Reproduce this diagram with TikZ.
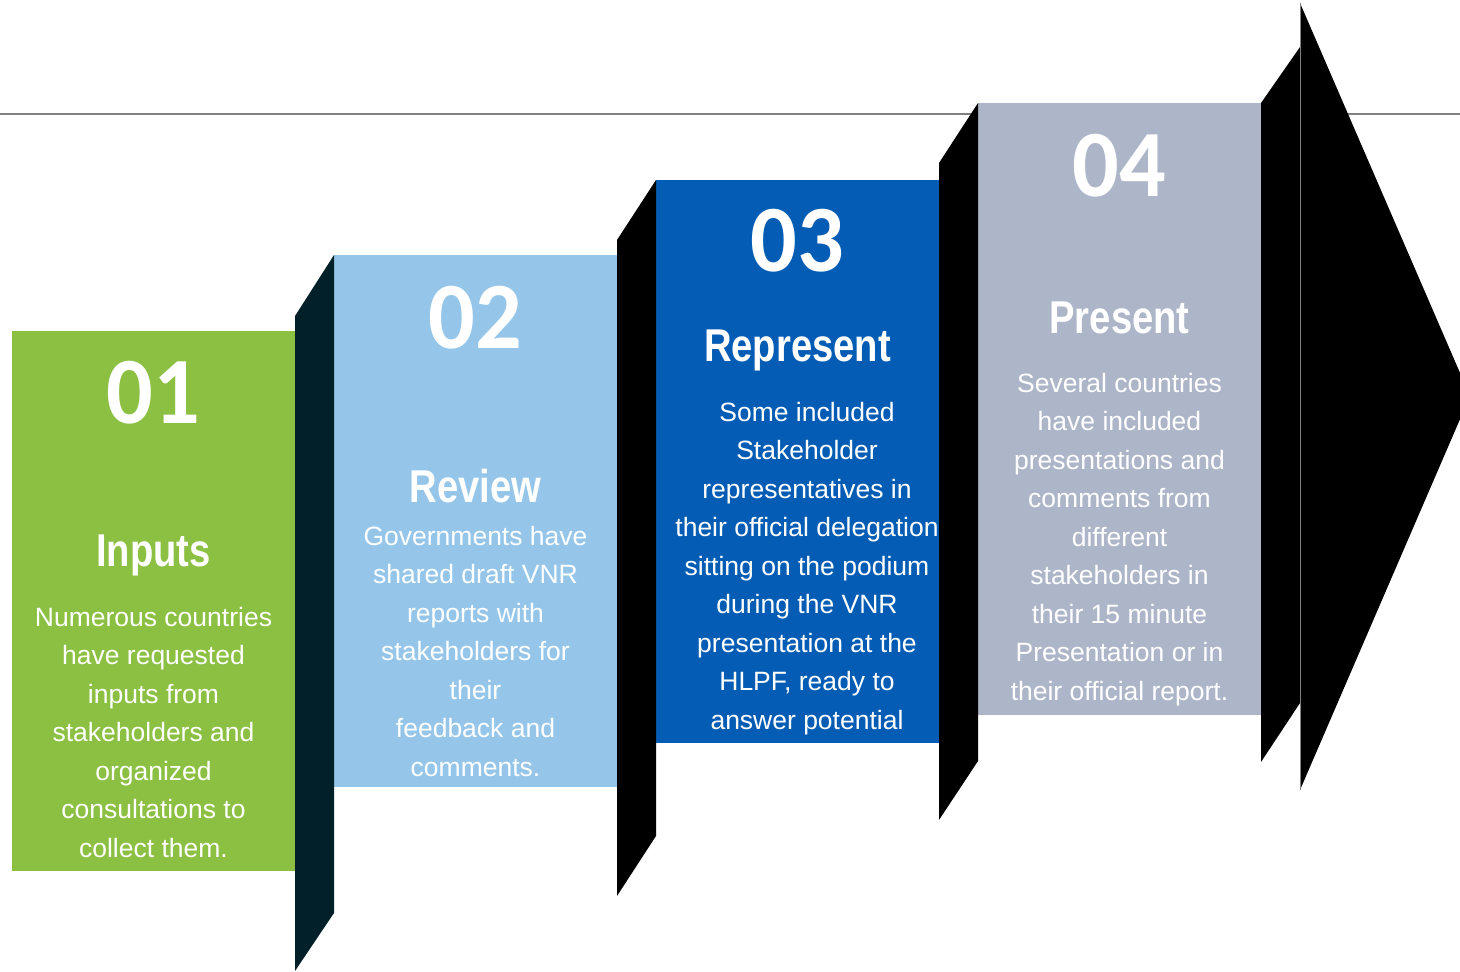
\documentclass[tikz,border=0pt]{standalone}
\usepackage{fontspec}
\setmainfont{Liberation Sans}
\newfontfamily\numfont[FakeStretch=0.97]{Carlito}
\newfontfamily\headfont[FakeStretch=0.83]{Liberation Sans}
\usetikzlibrary{calc}

\definecolor{inputgreen}{HTML}{8BC043}
\definecolor{reviewblue}{HTML}{95C6EA}
\definecolor{represblue}{HTML}{045CB4}
\definecolor{presgray}{HTML}{ADB6C9}
\definecolor{folddark}{HTML}{022029}
\definecolor{rulegray}{HTML}{808080}

\tikzset{
	panel/.style={minimum width=283pt, inner sep=0pt, outer sep=0pt, draw=none},
	numtext/.style={anchor=base, inner sep=0pt, text=white, font=\numfont\bfseries\fontsize{95}{95}\selectfont},
	headtext/.style={anchor=base, inner sep=0pt, text=white, font=\headfont\bfseries\fontsize{46}{46}\selectfont},
	bodytext/.style={anchor=north, inner sep=0pt, align=center, text=white, font=\fontsize{26.5}{38.5}\selectfont},
}

\begin{document}
\begin{tikzpicture}[x=1pt,y=-1pt]
		\clip (0,0) rectangle (1460,972);
		
		% thin rule behind the steps
		\draw[rulegray, line width=1.5pt] (0,114) -- (1460,114);
		
		\node (s1) at (153.5,601) [panel, fill=inputgreen, minimum height=540pt] {};
		\node (s2) at (475.5,521) [panel, fill=reviewblue, minimum height=532pt] {};
		\node (s3) at (797.5,461.5) [panel, fill=represblue, minimum height=563pt] {};
		\node (s4) at (1119.5,409) [panel, fill=presgray, minimum height=612pt] {};
		
		% folds between the steps
		\fill[folddark] ($(s1.north east)+(0,-15)$) -- (s2.north west) -- ($(s2.south west)+(0,126)$) -- ($(s1.south east)+(0,100)$) -- cycle;
		\fill[black] (617,240) -- (s3.north west) -- (656,836) -- (617,896) -- cycle;
		\fill[black] (939,163) -- (s4.north west) -- (978,761) -- (939,820) -- cycle;
		\fill[black] (s4.north east) -- (1300,47) -- (1300,703) -- (1261,762) -- cycle;
		
		% arrow head
		\fill[black] (1300,3) -- (1470,396) -- (1300,790) -- cycle;
		\draw[gray, line width=0.6pt] (1300,3) -- (1300,790);
		
		\node (n1) at (153.5,423) [numtext] {01};
		\node (h1) at (153.5,566) [headtext] {Inputs};
		\node (b1) at (153.5,599) [bodytext] {\strut Numerous countries\\have requested\\inputs from\\stakeholders and\\organized\\consultations to\\collect them.};
		
		\node (n2) at (475.5,348) [numtext] {02};
		\node (h2) at (475.5,502) [headtext] {Review};
		\node (b2) at (475.5,518) [bodytext] {\strut Governments have\\shared draft VNR\\reports with\\stakeholders for\\their\\feedback and\\comments.};
		
		\node (n3) at (797.5,271) [numtext] {03};
		\node (h3) at (797.5,361) [headtext] {Represent};
		\node (b3) at (807,394) [bodytext] {\strut Some included\\Stakeholder\\representatives in\\their official delegation\\sitting on the podium\\during the VNR\\presentation at the\\HLPF, ready to\\answer potential};
		
		\node (n4) at (1119.5,196) [numtext] {04};
		\node (h4) at (1119.5,333) [headtext] {Present};
		\node (b4) at (1119.5,365) [bodytext] {\strut Several countries\\have included\\presentations and\\comments from\\different\\stakeholders in\\their 15 minute\\Presentation or in\\their official report.};
		
	\end{tikzpicture}
\end{document}
